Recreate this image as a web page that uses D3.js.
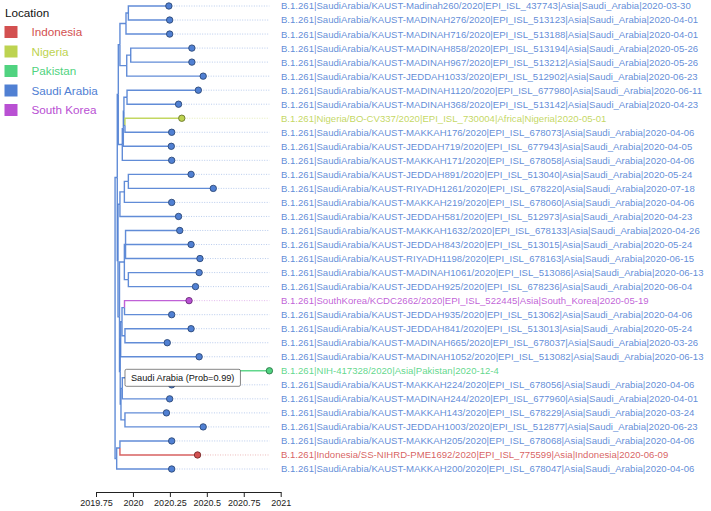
<!DOCTYPE html>
<html>
<head>
<meta charset="utf-8">
<script src="https://cdn.jsdelivr.net/npm/d3@7"></script>
<style>
html,body{margin:0;padding:0;background:#fff;}
svg{display:block;font-family:"Liberation Sans",Arial,Helvetica,sans-serif;}
</style>
</head>
<body>
<svg id="chart" width="711" height="511"></svg>
<script>
// ---------- DATA ----------
const locations = ["Indonesia", "Nigeria", "Pakistan", "Saudi Arabia", "South Korea"];
const locationHues = [0, 70, 142, 218, 288];

const tipLabels = [
  "B.1.261|SaudiArabia/KAUST-Madinah260/2020|EPI_ISL_437743|Asia|Saudi_Arabia|2020-03-30",
  "B.1.261|SaudiArabia/KAUST-MADINAH276/2020|EPI_ISL_513123|Asia|Saudi_Arabia|2020-04-01",
  "B.1.261|SaudiArabia/KAUST-MADINAH716/2020|EPI_ISL_513188|Asia|Saudi_Arabia|2020-04-01",
  "B.1.261|SaudiArabia/KAUST-MADINAH858/2020|EPI_ISL_513194|Asia|Saudi_Arabia|2020-05-26",
  "B.1.261|SaudiArabia/KAUST-MADINAH967/2020|EPI_ISL_513212|Asia|Saudi_Arabia|2020-05-26",
  "B.1.261|SaudiArabia/KAUST-JEDDAH1033/2020|EPI_ISL_512902|Asia|Saudi_Arabia|2020-06-23",
  "B.1.261|SaudiArabia/KAUST-MADINAH1120/2020|EPI_ISL_677980|Asia|Saudi_Arabia|2020-06-11",
  "B.1.261|SaudiArabia/KAUST-MADINAH368/2020|EPI_ISL_513142|Asia|Saudi_Arabia|2020-04-23",
  "B.1.261|Nigeria/BO-CV337/2020|EPI_ISL_730004|Africa|Nigeria|2020-05-01",
  "B.1.261|SaudiArabia/KAUST-MAKKAH176/2020|EPI_ISL_678073|Asia|Saudi_Arabia|2020-04-06",
  "B.1.261|SaudiArabia/KAUST-JEDDAH719/2020|EPI_ISL_677943|Asia|Saudi_Arabia|2020-04-05",
  "B.1.261|SaudiArabia/KAUST-MAKKAH171/2020|EPI_ISL_678058|Asia|Saudi_Arabia|2020-04-06",
  "B.1.261|SaudiArabia/KAUST-JEDDAH891/2020|EPI_ISL_513040|Asia|Saudi_Arabia|2020-05-24",
  "B.1.261|SaudiArabia/KAUST-RIYADH1261/2020|EPI_ISL_678220|Asia|Saudi_Arabia|2020-07-18",
  "B.1.261|SaudiArabia/KAUST-MAKKAH219/2020|EPI_ISL_678060|Asia|Saudi_Arabia|2020-04-06",
  "B.1.261|SaudiArabia/KAUST-JEDDAH581/2020|EPI_ISL_512973|Asia|Saudi_Arabia|2020-04-23",
  "B.1.261|SaudiArabia/KAUST-MAKKAH1632/2020|EPI_ISL_678133|Asia|Saudi_Arabia|2020-04-26",
  "B.1.261|SaudiArabia/KAUST-JEDDAH843/2020|EPI_ISL_513015|Asia|Saudi_Arabia|2020-05-24",
  "B.1.261|SaudiArabia/KAUST-RIYADH1198/2020|EPI_ISL_678163|Asia|Saudi_Arabia|2020-06-15",
  "B.1.261|SaudiArabia/KAUST-MADINAH1061/2020|EPI_ISL_513086|Asia|Saudi_Arabia|2020-06-13",
  "B.1.261|SaudiArabia/KAUST-JEDDAH925/2020|EPI_ISL_678236|Asia|Saudi_Arabia|2020-06-04",
  "B.1.261|SouthKorea/KCDC2662/2020|EPI_ISL_522445|Asia|South_Korea|2020-05-19",
  "B.1.261|SaudiArabia/KAUST-JEDDAH935/2020|EPI_ISL_513062|Asia|Saudi_Arabia|2020-04-06",
  "B.1.261|SaudiArabia/KAUST-JEDDAH841/2020|EPI_ISL_513013|Asia|Saudi_Arabia|2020-05-24",
  "B.1.261|SaudiArabia/KAUST-MADINAH665/2020|EPI_ISL_678037|Asia|Saudi_Arabia|2020-03-26",
  "B.1.261|SaudiArabia/KAUST-MADINAH1052/2020|EPI_ISL_513082|Asia|Saudi_Arabia|2020-06-13",
  "B.1.261|NIH-417328/2020|Asia|Pakistan|2020-12-4",
  "B.1.261|SaudiArabia/KAUST-MAKKAH224/2020|EPI_ISL_678056|Asia|Saudi_Arabia|2020-04-06",
  "B.1.261|SaudiArabia/KAUST-MADINAH244/2020|EPI_ISL_677960|Asia|Saudi_Arabia|2020-04-01",
  "B.1.261|SaudiArabia/KAUST-MAKKAH143/2020|EPI_ISL_678229|Asia|Saudi_Arabia|2020-03-24",
  "B.1.261|SaudiArabia/KAUST-JEDDAH1003/2020|EPI_ISL_512877|Asia|Saudi_Arabia|2020-06-23",
  "B.1.261|SaudiArabia/KAUST-MAKKAH205/2020|EPI_ISL_678068|Asia|Saudi_Arabia|2020-04-06",
  "B.1.261|Indonesia/SS-NIHRD-PME1692/2020|EPI_ISL_775599|Asia|Indonesia|2020-06-09",
  "B.1.261|SaudiArabia/KAUST-MAKKAH200/2020|EPI_ISL_678047|Asia|Saudi_Arabia|2020-04-06"
];
const tipDates = [
  "2020-03-30","2020-04-01","2020-04-01","2020-05-26","2020-05-26","2020-06-23","2020-06-11","2020-04-23",
  "2020-05-01","2020-04-06","2020-04-05","2020-04-06","2020-05-24","2020-07-18","2020-04-06","2020-04-23",
  "2020-04-26","2020-05-24","2020-06-15","2020-06-13","2020-06-04","2020-05-19","2020-04-06","2020-05-24",
  "2020-03-26","2020-06-13","2020-12-04","2020-04-06","2020-04-01","2020-03-24","2020-06-23","2020-04-06",
  "2020-06-09","2020-04-06"
];
const tipLocations = [
  "Saudi Arabia","Saudi Arabia","Saudi Arabia","Saudi Arabia","Saudi Arabia","Saudi Arabia","Saudi Arabia","Saudi Arabia",
  "Nigeria","Saudi Arabia","Saudi Arabia","Saudi Arabia","Saudi Arabia","Saudi Arabia","Saudi Arabia","Saudi Arabia",
  "Saudi Arabia","Saudi Arabia","Saudi Arabia","Saudi Arabia","Saudi Arabia","South Korea","Saudi Arabia","Saudi Arabia",
  "Saudi Arabia","Saudi Arabia","Pakistan","Saudi Arabia","Saudi Arabia","Saudi Arabia","Saudi Arabia","Saudi Arabia",
  "Indonesia","Saudi Arabia"
];
// internal nodes: id, decimal-year time, children (tips are "t<index>")
const nodeIds = ["n1","n2","n3","n4","A","n5","n6","n7","n8","B","T","n9","n10","M1","n11","n12","M2",
  "n13","n14","n15","M3","n16","n17","n18","M4","M34","Mrest","Mid","P","n19","Q","R"];
const nodeTimes = [2019.969,2019.953,2019.985,2019.958,2019.912,2019.960,2019.946,2019.939,2019.935,2019.928,2019.901,
  2019.969,2019.942,2019.912,2019.950,2019.969,2019.942,
  2019.943,2019.946,2019.926,2019.917,2019.953,2019.928,2019.946,2019.919,2019.914,2019.909,2019.899,2019.894,
  2019.912,2019.890,2019.879];
const nodeChildren = [["t0","t1"],["n1","t2"],["t3","t4"],["n3","t5"],["n2","n4"],["t6","t7"],["t8","t9"],["n5","n6"],
  ["n7","t10"],["n8","t11"],["A","B"],["t12","t13"],["n9","t14"],["n10","t15"],["t16","t17","t18"],["t19","t20"],
  ["n11","n12"],["t21","t22"],["t23","t24"],["n13","n14"],["n15","t25"],["t26","t27"],["n16","t28"],["t29","t30"],
  ["n17","n18"],["M3","M4"],["M2","M34"],["M1","Mrest"],["T","Mid"],["t31","t32"],["n19","t33"],["P","Q"]];
const nodeLabelNode = "n16";
const nodeLabelText = "Saudi Arabia (Prob=0.99)";
const axisTicks = [2019.75, 2020, 2020.25, 2020.5, 2020.75, 2021];
const legendTitle = "Location";

// ---------- SCALES ----------
const color = d3.scaleOrdinal().domain(locations)
  .range(locationHues.map(h => d3.hsl(h, 0.6, 0.57).formatHex()));

function decYear(s) {
  const [y, m, d] = s.split("-").map(Number);
  const start = Date.UTC(y, 0, 1), end = Date.UTC(y + 1, 0, 1);
  return y + (Date.UTC(y, m - 1, d) - start) / (end - start);
}

const x = d3.scaleLinear().domain([2019.75, 2021]).range([96, 280.7]);
const y = d3.scaleLinear().domain([0, tipLabels.length - 1]).range([6, 469]);

// ---------- LAYOUT ----------
const pos = {};
tipLabels.forEach((l, i) => {
  pos["t" + i] = { x: x(decYear(tipDates[i])), y: y(i), loc: tipLocations[i] };
});
nodeIds.forEach((id, k) => {
  const ch = nodeChildren[k].map(c => pos[c]);
  pos[id] = { x: x(nodeTimes[k]), y: d3.mean(ch, c => c.y), loc: "Saudi Arabia" };
});

const svg = d3.select("#chart");
const maxX = d3.max(tipDates, d => x(decYear(d)));

// dotted alignment lines
const gDot = svg.append("g");
tipLabels.forEach((l, i) => {
  const p = pos["t" + i];
  gDot.append("line").attr("x1", p.x).attr("x2", maxX).attr("y1", p.y).attr("y2", p.y)
    .attr("stroke", color(p.loc)).attr("stroke-opacity", 0.5).attr("stroke-width", 0.8)
    .attr("stroke-dasharray", "1,1.5");
});

// branches
const edges = [];
nodeIds.forEach((id, k) => {
  nodeChildren[k].forEach(c => edges.push({ p: pos[id], c: pos[c] }));
});
edges.sort((a, b) => (a.c.loc === "Saudi Arabia" ? 0 : 1) - (b.c.loc === "Saudi Arabia" ? 0 : 1));
svg.append("g").selectAll("path").data(edges).join("path")
  .attr("d", e => `M${e.p.x},${e.p.y}V${e.c.y}H${e.c.x}`)
  .attr("fill", "none").attr("stroke", e => color(e.c.loc)).attr("stroke-width", 1.4)
  .attr("stroke-opacity", 0.9);

// tip points
svg.append("g").selectAll("circle").data(tipLabels.map((l, i) => pos["t" + i])).join("circle")
  .attr("cx", d => d.x).attr("cy", d => d.y).attr("r", 3.2)
  .attr("fill", d => color(d.loc)).attr("stroke", d => d3.color(color(d.loc)).darker(1.6))
  .attr("stroke-width", 0.9);

// tip labels
svg.append("g").selectAll("text").data(tipLabels).join("text")
  .attr("x", maxX + 11.5).attr("y", (d, i) => pos["t" + i].y).attr("dy", "0.36em")
  .attr("font-size", 9.6).attr("fill", (d, i) => color(tipLocations[i])).attr("fill-opacity", 0.9)
  .text(d => d);

// node label
const nl = pos[nodeLabelNode];
const gl = svg.append("g");
const lt = gl.append("text").attr("x", nl.x + 5).attr("y", nl.y).attr("dy", "0.35em")
  .attr("font-size", 9.2).attr("fill", "#111").text(nodeLabelText);
const bb = lt.node().getBBox();
gl.insert("rect", "text").attr("x", nl.x - 1).attr("y", nl.y - 8.5).attr("width", bb.width + 12).attr("height", 17)
  .attr("rx", 1.5).attr("fill", "#fff").attr("stroke", "#333").attr("stroke-width", 0.6);

// axis
const ax = svg.append("g").attr("transform", "translate(0,492)")
  .call(d3.axisBottom(x).tickValues(axisTicks).tickFormat(d => String(d)).tickSize(5).tickSizeOuter(0));
ax.select(".domain").attr("stroke", "#222");
ax.selectAll(".tick line").attr("stroke", "#222");
ax.selectAll(".tick text").attr("font-size", 9).attr("fill", "#222")
  .attr("font-family", "\"Liberation Sans\",Arial,Helvetica,sans-serif");

// legend
const lg = svg.append("g");
lg.append("text").attr("x", 5).attr("y", 16.5).attr("font-size", 11.7).attr("fill", "#111").text(legendTitle);
locations.forEach((loc, i) => {
  const yy = 26 + i * 19.5;
  lg.append("rect").attr("x", 4.5).attr("y", yy).attr("width", 13).attr("height", 12).attr("fill", color(loc));
  lg.append("text").attr("x", 31.5).attr("y", yy + 10).attr("font-size", 11.7).attr("fill", color(loc)).text(loc);
});
</script>
</body>
</html>
